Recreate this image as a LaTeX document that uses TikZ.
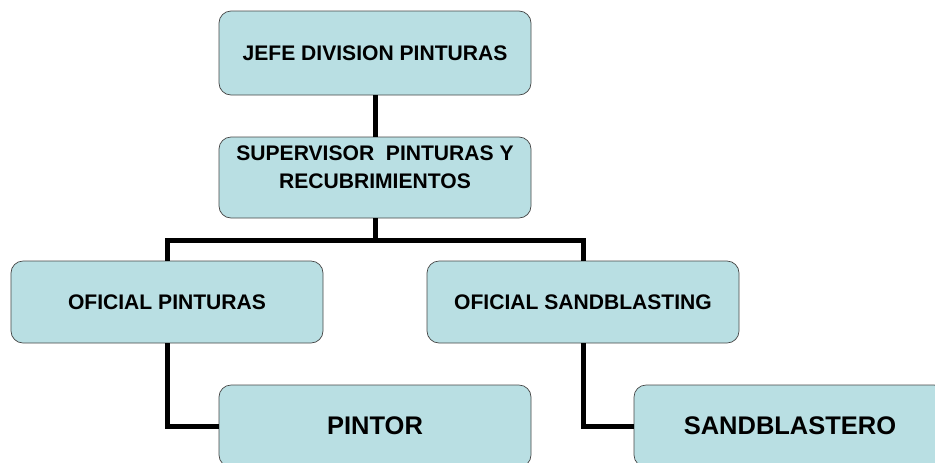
\documentclass[tikz,border=0pt]{standalone}
\usepackage{fontspec}
\setmainfont{Liberation Sans}
\usetikzlibrary{positioning}

\definecolor{cajaazul}{RGB}{185,223,227}
\definecolor{bordecaja}{RGB}{70,70,70}

\tikzset{
	caja/.style={draw=bordecaja, fill=cajaazul, thin, rounded corners=2.4mm,
		minimum width=62.4mm, minimum height=16.4mm, inner sep=0pt, align=center,
		font=\bfseries\fontsize{12}{16}\selectfont},
	cajagrande/.style={caja, font=\bfseries\fontsize{14.5}{17}\selectfont},
	conector/.style={line width=1mm, black}
}

\begin{document}
\begin{tikzpicture}[x=0.2mm, y=-0.2mm]
		
		%Rahmen
		\clip (0,0) rectangle (935,462);
		
		%Cajas
		\node [caja, minimum height=16.8mm] (jefe) at (375,53) {JEFE DIVISION PINTURAS};
		\node [caja, minimum height=16.2mm, text depth=4mm] (super) at (375,177.5) {SUPERVISOR\ \ PINTURAS Y\\RECUBRIMIENTOS};
		\node [caja] (ofpint) at (167,302) {OFICIAL PINTURAS};
		\node [caja] (ofsand) at (583,302) {OFICIAL SANDBLASTING};
		\node [cajagrande] (pintor) at (375,426) {PINTOR};
		\node [cajagrande] (sandb) at (790,426) {SANDBLASTERO};
		
		%Conectores
		\coordinate (bus) at (375,240);
		\draw [conector] (jefe) -- (super);
		\draw [conector] (super) -- (bus);
		\draw [conector] (bus) -| (ofpint);
		\draw [conector] (bus) -| (ofsand);
		\draw [conector] (ofpint) |- (pintor);
		\draw [conector] (ofsand) |- (sandb);
		
\end{tikzpicture}
\end{document}
